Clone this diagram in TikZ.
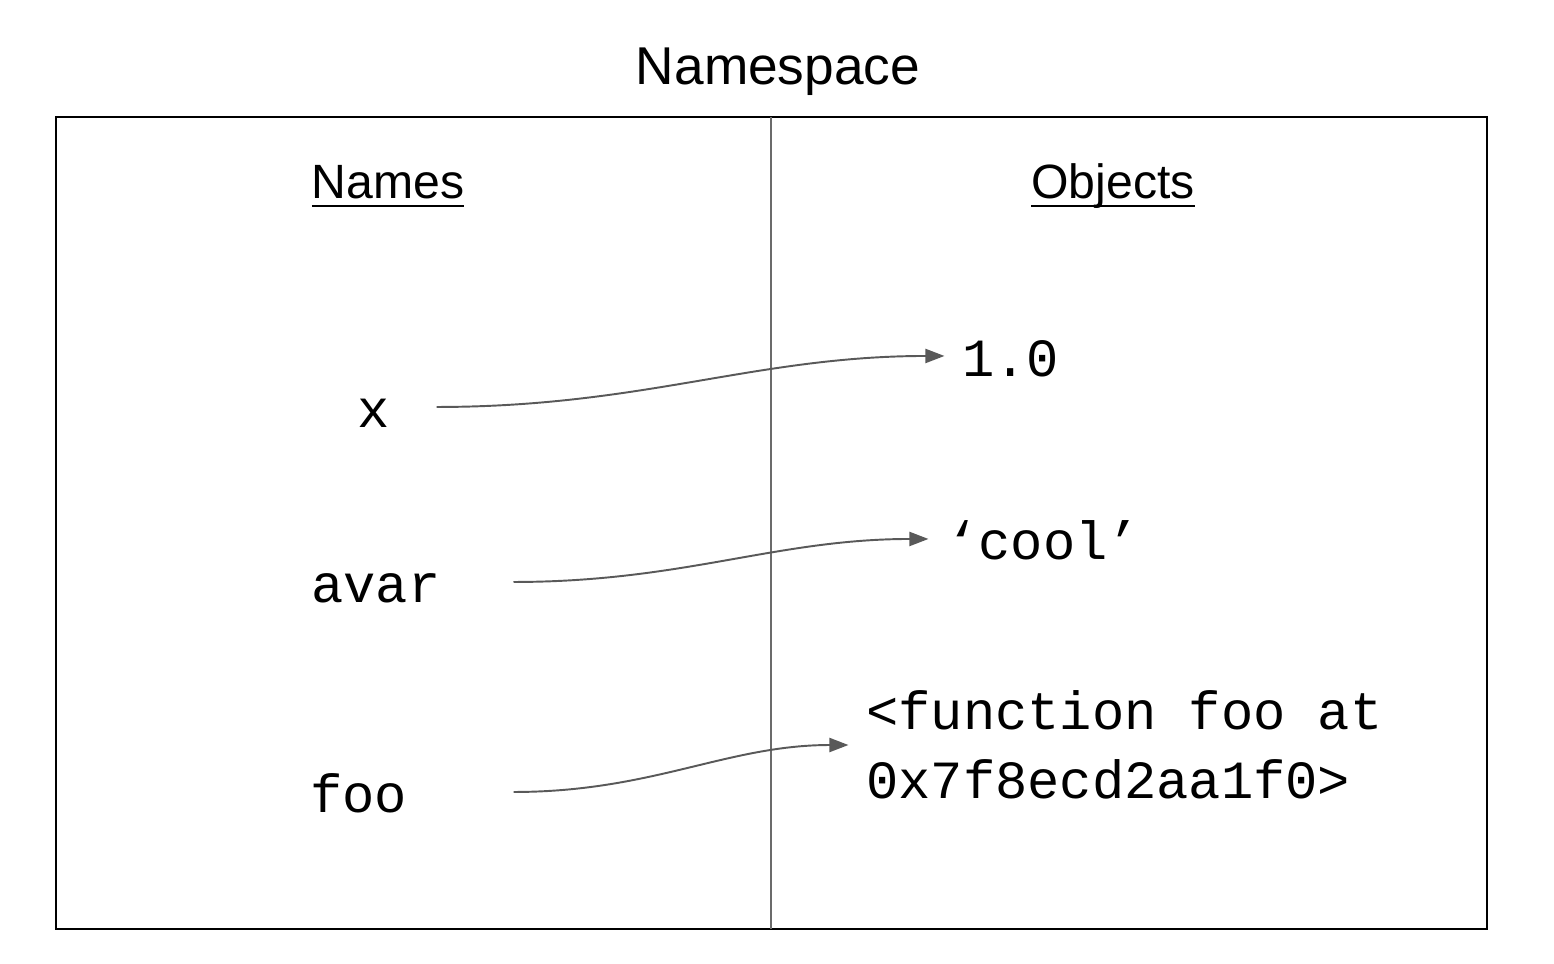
\documentclass[tikz,border=0pt]{standalone}
\usepackage{fontspec}
\setmainfont{Liberation Sans}
\setmonofont{Liberation Mono}
\usetikzlibrary{arrows.meta}

\definecolor{linkgray}{HTML}{595959}
\definecolor{divgray}{HTML}{6B6B6B}
\newcommand\ulword[1]{\setbox0\hbox{#1}\rlap{\rule[-5.4pt]{\wd0}{1.7pt}}\box0}

\tikzstyle{title} = [font=\fontsize{30.3}{36}\selectfont, inner sep=0]
\tikzstyle{header} = [font=\fontsize{27.4}{33}\selectfont, inner sep=0, anchor=base]
\tikzstyle{code} = [font=\fontsize{30.6}{39.3}\selectfont\ttfamily, inner sep=0, text height=26pt, text depth=3.2pt, anchor=base west]
\tikzstyle{codeblock} = [font=\fontsize{30.6}{39.3}\selectfont\ttfamily, inner sep=0, align=left, anchor=west]
\tikzstyle{link} = [draw=linkgray, line width=1.1pt, -{Triangle[length=10.8pt,width=8pt]}, shorten >=10pt]

\begin{document}
\begin{tikzpicture}[x=0.02cm, y=-0.02cm]
	\useasboundingbox (0,0) rectangle (1554,963);
	
	\def \divx {771}
	
	\draw [line width=1.15pt] (56,117) rectangle (1487,929);
	\draw [line width=1.1pt, divgray] (\divx,117) -- (\divx,929);
	\node (ns) [title, anchor=base] at (778,85) {Namespace};
	\node (names) [header] at (388,198) {\ulword{Names}};
	\node (objects) [header] at (1113,198) {\ulword{Objects}};
	\node (x) [code] at (357,427) {x};
	\node (avar) [code] at (311,602) {avar};
	\node (foo) [code] at (310,812) {foo};
	\node (one) [code] at (962,376) {1.0};
	\node (cool) [code] at (946,559) {‘cool’};
	\node (fn) [codeblock] at (866,745) {<function foo at\\0x7f8ecd2aa1f0>};
	
	%arrow
	\draw [link] ([xshift=26.6pt]x.east) to[out=0,in=180] (one.west);
	\draw [link] ([xshift=41.4pt]avar.east) to[out=0,in=180] (cool.west);
	\draw [link] ([xshift=60.4pt]foo.east) to[out=0,in=180] (fn.west);
	
\end{tikzpicture}
\end{document}
